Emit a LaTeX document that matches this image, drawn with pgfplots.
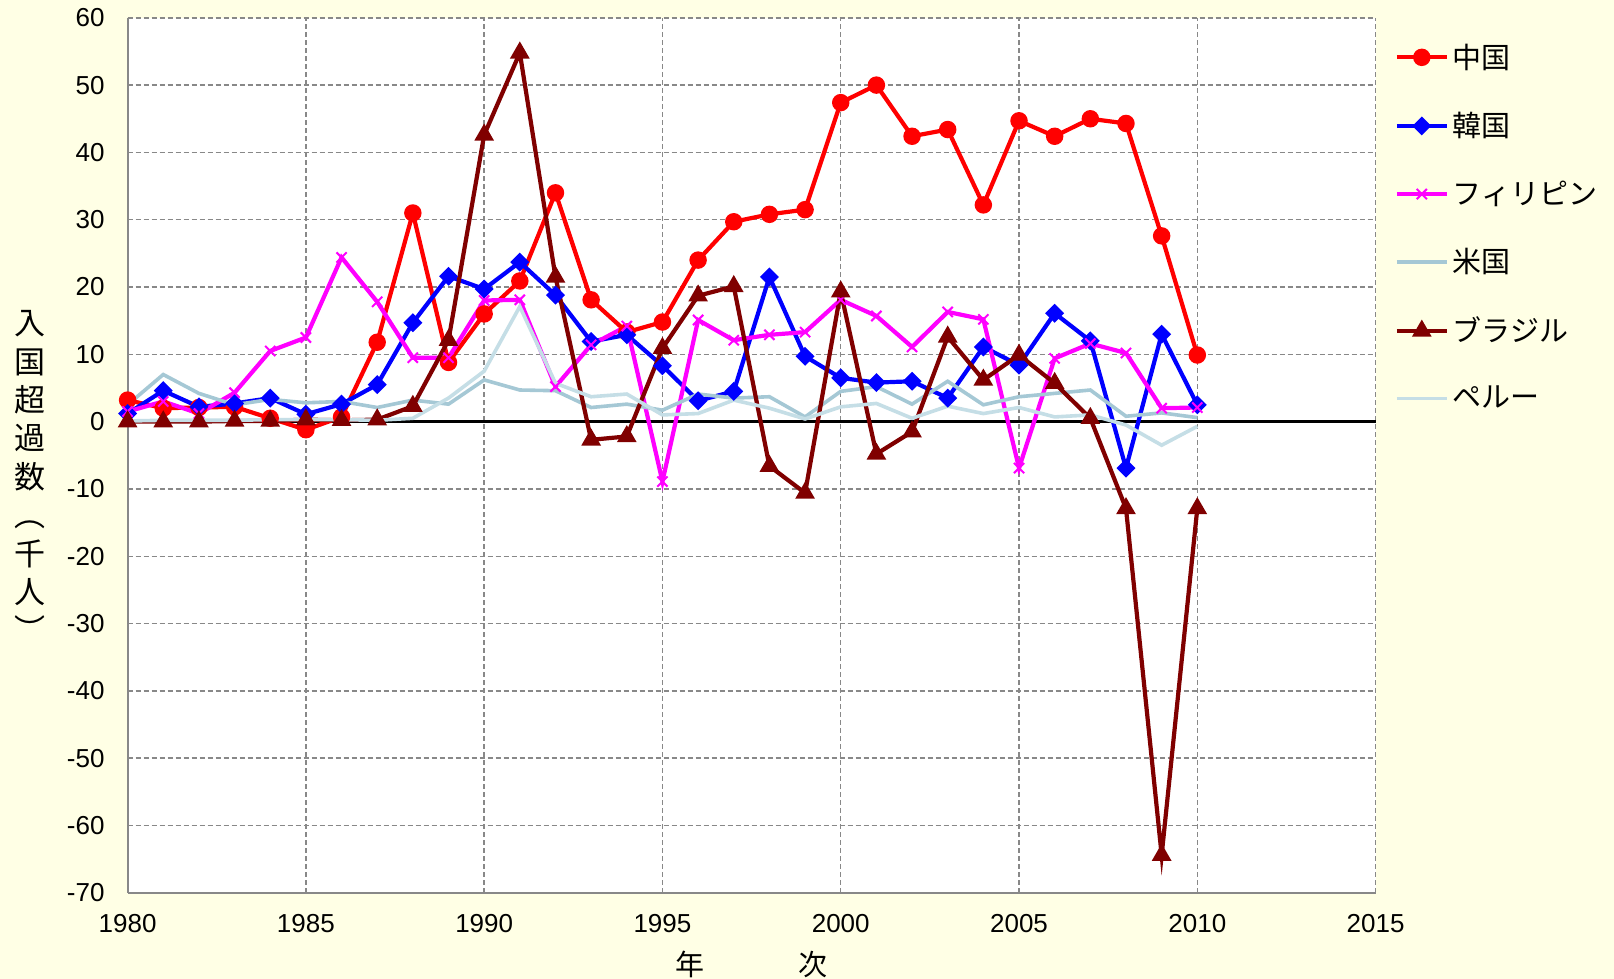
\documentclass[border=0pt]{standalone}
\usepackage{pgfplots}
\usepackage{pgfplotstable}
\pgfplotsset{compat=1.18}
\usepackage{fontspec}
\setmainfont{Liberation Sans}
\newfontfamily\cjk{Noto Sans CJK JP}

\definecolor{bgcream}{RGB}{255,255,229}
\definecolor{chinared}{RGB}{255,0,0}
\definecolor{koreablue}{RGB}{0,0,255}
\definecolor{philmag}{RGB}{255,0,255}
\definecolor{usblue}{RGB}{165,200,213}
\definecolor{perublue}{RGB}{197,222,230}
\definecolor{brazil}{RGB}{128,0,0}
\definecolor{gridgray}{RGB}{136,136,136}

% 入国超過数 (千人)
\pgfplotstableread{
year china korea phil usa brazil peru
1980 3.2 1.2 1.5 2.5 0.0 0.1
1981 2.0 4.6 3.0 7.0 0.0 0.2
1982 2.1 2.2 1.2 4.2 0.0 0.2
1983 2.2 2.7 4.3 2.5 0.1 0.2
1984 0.5 3.5 10.5 3.3 0.1 0.3
1985 -1.2 1.1 12.5 2.8 0.3 0.3
1986 0.7 2.6 24.4 3.0 0.2 0.3
1987 11.8 5.5 17.8 2.1 0.3 0.2
1988 31.0 14.7 9.5 3.2 2.3 0.5
1989 8.8 21.6 9.5 2.6 12.1 3.5
1990 16.0 19.7 18.0 6.2 42.6 7.5
1991 20.9 23.7 18.1 4.7 54.8 17.1
1992 34.0 18.8 5.2 4.6 21.5 5.7
1993 18.1 11.9 11.4 2.1 -2.7 3.7
1994 13.3 12.9 14.2 2.6 -2.2 4.1
1995 14.8 8.3 -8.9 1.7 10.9 1.0
1996 24.0 3.1 15.1 4.1 18.7 1.2
1997 29.7 4.5 12.1 3.5 20.1 3.2
1998 30.8 21.5 12.9 3.7 -6.6 2.0
1999 31.5 9.7 13.3 0.7 -10.6 0.4
2000 47.4 6.5 18.1 4.5 19.3 2.2
2001 50.0 5.8 15.7 5.2 -4.8 2.7
2002 42.4 6.0 11.1 2.6 -1.5 0.5
2003 43.4 3.5 16.3 6.0 12.6 2.3
2004 32.2 11.1 15.2 2.5 6.2 1.2
2005 44.7 8.4 -6.9 3.7 9.9 2.1
2006 42.4 16.1 9.4 4.2 5.7 0.7
2007 45.0 12.0 11.6 4.7 0.5 1.0
2008 44.3 -6.9 10.2 0.8 -12.9 -0.5
2009 27.6 13.0 2.0 1.3 -64.4 -3.5
2010 9.9 2.5 2.1 0.6 -12.9 -0.7
}\migdata

\begin{document}
\begin{tikzpicture}
\path[fill=bgcream, use as bounding box] (-63.8pt,-43.1pt) rectangle (743.2pt,446.4pt);
\begin{axis}[
    at={(0,0)}, anchor=south west,
    scale only axis,
    width=624pt, height=437.5pt,
    xmin=1980, xmax=2015,
    ymin=-70, ymax=60,
    xtick={1980,1985,...,2015},
    ytick={-70,-60,...,60},
    major tick length=0pt,
    axis lines=left,
    axis line style={-, draw=gridgray, line width=1pt},
    axis background/.style={fill=white},
    grid=major,
    grid style={draw=gridgray, line width=0.7pt, dash pattern=on 2.5pt off 1.5pt},
    clip=false,
    tick label style={font=\fontsize{13}{13}\selectfont,
        /pgf/number format/assume math mode=true},
    x tick label style={/pgf/number format/1000 sep={}, yshift=-7pt},
    y tick label style={xshift=-8pt},
    xlabel={年\hspace{47pt}次},
    every axis x label/.style={at={(rel axis cs:0.5,0)}, anchor=center,
        yshift=-36pt, font=\cjk\fontsize{14.5}{14.5}\selectfont},
    ylabel={入\\国\\超\\過\\数\\︵\\千\\人\\︶},
    every axis y label/.style={at={(rel axis cs:0,0.476)}, anchor=center,
        xshift=-48.8pt, align=center, font=\cjk\fontsize{15.5}{19.2}\selectfont},
    legend cell align=left,
    legend image code/.code={
        \draw[mark repeat=2, mark phase=2, #1]
            plot coordinates {(0pt,0pt) (12.5pt,0pt) (25pt,0pt)};
    },
    legend style={at={(rel axis cs:1.015,0.9755)}, anchor=north west,
        draw=none, fill=none, inner sep=0pt, row sep=16.6pt,
        font=\cjk\fontsize{14.5}{14.5}\selectfont},
]
\addplot[black, line width=1.5pt, forget plot] coordinates {(1980,0) (2015,0)};

\addplot[chinared, line width=2.1pt, mark=*, mark size=3.3pt,
    mark options={solid, fill=chinared}] table[x=year, y=china] {\migdata};
\addlegendentry{中国}

\addplot[koreablue, line width=2.1pt, mark=square*, mark size=2.3pt,
    mark options={solid, fill=koreablue, rotate=45}] table[x=year, y=korea] {\migdata};
\addlegendentry{韓国}

\addplot[philmag, line width=2.1pt, mark=x, mark size=3.6pt,
    mark options={solid, line width=1pt}] table[x=year, y=phil] {\migdata};
\addlegendentry{フィリピン}

\addplot[usblue, line width=1.8pt] table[x=year, y=usa] {\migdata};
\addlegendentry{米国}

\addplot[brazil, line width=2.1pt, mark=triangle*, mark size=3.6pt,
    mark options={solid, fill=brazil}] table[x=year, y=brazil] {\migdata};
\addlegendentry{ブラジル}

\addplot[perublue, line width=1.8pt] table[x=year, y=peru] {\migdata};
\addlegendentry{ペルー}
\end{axis}
\end{tikzpicture}
\end{document}
